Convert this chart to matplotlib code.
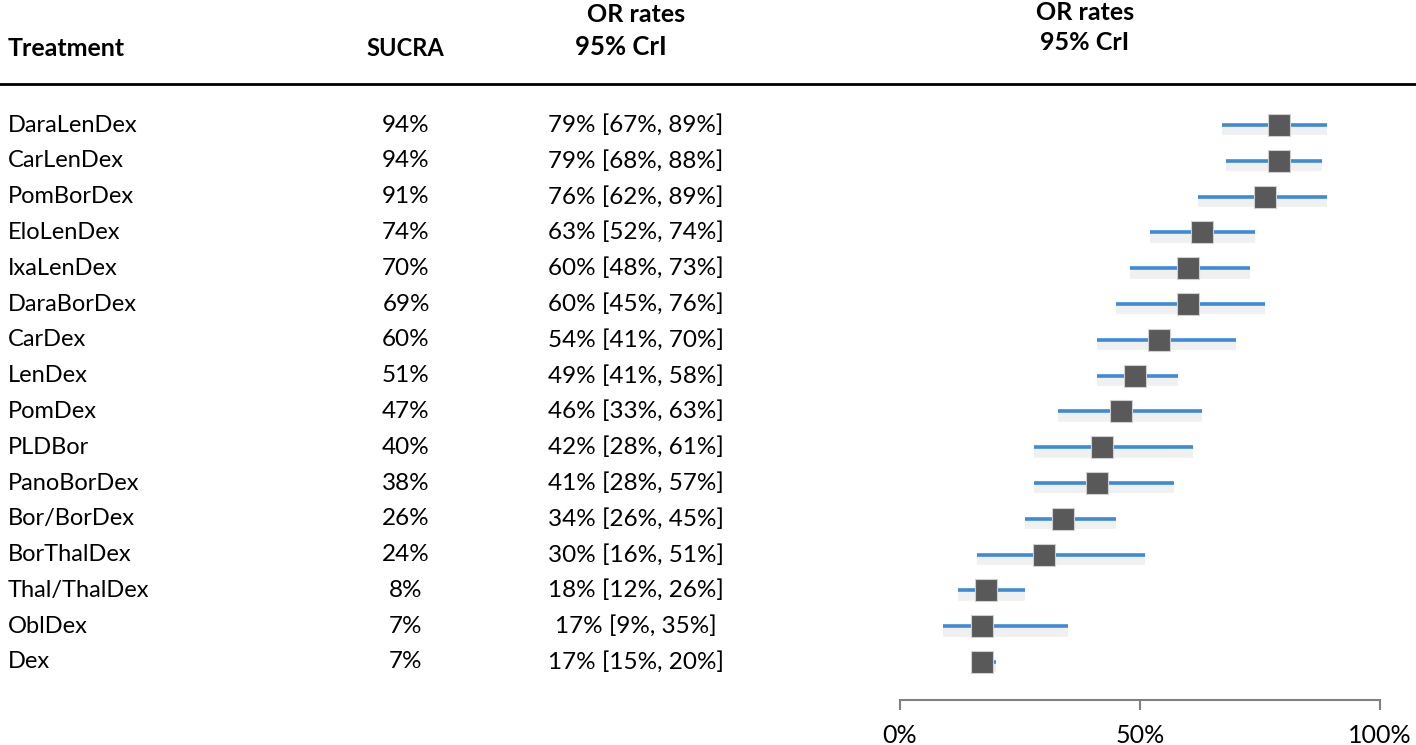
"""
Forest plot of OR rates with SUCRA table.
"""
import matplotlib
matplotlib.use('Agg')
import matplotlib.pyplot as plt
import matplotlib.transforms as mtransforms

treatments = ['DaraLenDex', 'CarLenDex', 'PomBorDex', 'EloLenDex', 'IxaLenDex',
              'DaraBorDex', 'CarDex', 'LenDex', 'PomDex', 'PLDBor', 'PanoBorDex',
              'Bor/BorDex', 'BorThalDex', 'Thal/ThalDex', 'OblDex', 'Dex']
sucra = [94, 94, 91, 74, 70, 69, 60, 51, 47, 40, 38, 26, 24, 8, 7, 7]
or_mid = [79, 79, 76, 63, 60, 60, 54, 49, 46, 42, 41, 34, 30, 18, 17, 17]
or_lo = [67, 68, 62, 52, 48, 45, 41, 41, 33, 28, 28, 26, 16, 12, 9, 15]
or_hi = [89, 88, 89, 74, 73, 76, 70, 58, 63, 61, 57, 45, 51, 26, 35, 20]
x_ticks = [0, 50, 100]

W, H = 1416, 745
FONT = 'Lato'
BLUE = '#3d8ad8'
GREY = '#595959'

fig = plt.figure(figsize=(W / 100, H / 100), dpi=100)

# forest axes: 0% at x=900px, 100% at x=1380px, top line 84px, axis at 700px
ax = fig.add_axes([900 / W, 1 - 700 / H, 480 / W, (700 - 84) / H])
row0, step = 125, 35.8
ax.set_ylim((700 - row0) / step, (84 - row0) / step)
ax.set_xlim(0, 100)

for i in range(len(treatments)):
    # soft shadow under each bar
    ax.plot([or_lo[i], or_hi[i]], [i + 0.15, i + 0.15], color='#000000',
            alpha=0.06, linewidth=7, solid_capstyle='butt', zorder=1)
    ax.plot([or_lo[i], or_hi[i]], [i, i], color=BLUE, linewidth=2.6,
            solid_capstyle='butt', zorder=2)
    ax.plot(or_mid[i], i, marker='s', markersize=16, color=GREY,
            markeredgecolor='#d0d0d0', markeredgewidth=0.8, zorder=3)

ax.set_xticks(x_ticks)
ax.set_xticklabels([f'{t}%' for t in x_ticks], fontsize=18, family=FONT)
ax.tick_params(axis='x', direction='out', length=7, width=1.5, color='#808080', pad=10)
ax.set_yticks([])
for s in ['top', 'left', 'right']:
    ax.spines[s].set_visible(False)
ax.spines['bottom'].set_color('#808080')
ax.spines['bottom'].set_linewidth(1.5)
ax.patch.set_alpha(0)

# table columns: figure x, data y
trans = mtransforms.blended_transform_factory(fig.transFigure, ax.transData)
for i, name in enumerate(treatments):
    ax.text(8 / W, i, name, transform=trans, ha='left', va='center',
            fontsize=17, family=FONT, clip_on=False)
    ax.text(406 / W, i, f'{sucra[i]}%', transform=trans, ha='center', va='center',
            fontsize=17.5, family=FONT, clip_on=False)
    ax.text(636 / W, i, f'{or_mid[i]}% [{or_lo[i]}%, {or_hi[i]}%]', transform=trans,
            ha='center', va='center', fontsize=17.5, family=FONT, clip_on=False)

# headers
hdr = dict(family=FONT, fontweight='bold', va='center')
fig.text(8 / W, 1 - 48 / H, 'Treatment', ha='left', fontsize=18, **hdr)
fig.text(405 / W, 1 - 48 / H, 'SUCRA', ha='center', fontsize=17, **hdr)
fig.text(636 / W, 1 - 15 / H, 'OR rates', ha='center', fontsize=18, **hdr)
fig.text(621 / W, 1 - 47 / H, '95% CrI', ha='center', fontsize=18.5, **hdr)
fig.text(1085 / W, 1 - 13 / H, 'OR rates', ha='center', fontsize=18, **hdr)
fig.text(1085 / W, 1 - 43 / H, '95% CrI', ha='center', fontsize=18, **hdr)

fig.add_artist(plt.Line2D([0, 1], [1 - 84 / H, 1 - 84 / H], transform=fig.transFigure,
                          color='black', linewidth=2))

fig.savefig('out.png', dpi=100)
